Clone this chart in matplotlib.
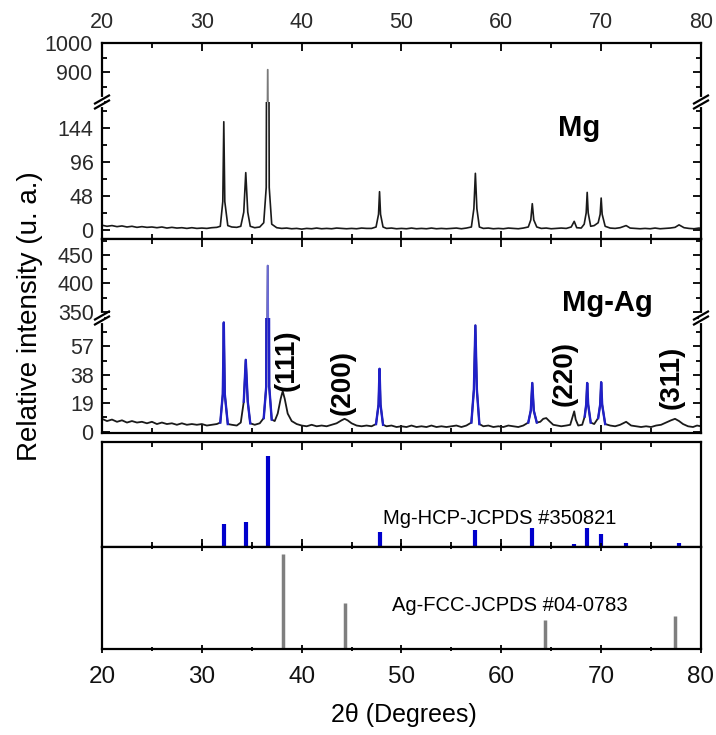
import numpy as np
import matplotlib
matplotlib.use('Agg')
import matplotlib.pyplot as plt
from matplotlib.ticker import MultipleLocator, FixedLocator
from matplotlib.lines import Line2D

plt.rcParams['font.family'] = ['Liberation Sans', 'DejaVu Sans']

# ---------------- data ----------------
# Mg pattern, intensity in units of the lower Mg axis
mg_tt = [20.0, 20.5, 21.0, 21.5, 22.0, 22.5, 23.0, 23.5, 24.0, 24.5, 25.0, 25.5, 26.0, 26.5,
         27.0, 27.5, 28.0, 28.5, 29.0, 29.5, 30.0, 30.5, 31.0, 31.5,
         31.85, 32.1, 32.2, 32.3, 32.6, 33.0, 33.5, 33.9,
         34.2, 34.4, 34.6, 34.85, 35.3, 35.8, 36.2,
         36.45, 36.6, 36.75, 37.0, 37.5, 38.0, 38.5, 39.0, 39.5, 40.0, 40.5, 41.0, 41.5,
         42.0, 42.5, 43.0, 43.5, 44.0, 44.5, 45.0, 45.5, 46.0, 46.5, 47.0, 47.45,
         47.7, 47.8, 47.9, 48.15, 48.5, 49.0, 49.5, 50.0, 50.5, 51.0, 51.5, 52.0, 52.5,
         53.0, 53.5, 54.0, 54.5, 55.0, 55.5, 56.0, 56.5, 57.0,
         57.25, 57.4, 57.55, 57.8, 58.2, 58.7, 59.2, 59.7, 60.2, 60.7, 61.2, 61.7, 62.2, 62.7,
         62.95, 63.1, 63.25, 63.55, 64.0, 64.5, 65.0, 65.5, 66.0, 66.5, 67.0, 67.3, 67.55,
         68.0, 68.3, 68.5, 68.6, 68.7, 68.95, 69.3, 69.7, 69.9, 70.0, 70.1, 70.4,
         70.9, 71.4, 71.9, 72.5, 72.9, 73.4, 73.9, 74.4, 74.9, 75.4, 75.9, 76.4, 76.9,
         77.4, 77.8, 78.3, 78.8, 79.3, 79.8, 80.0]
mg_int = [6.5, 5.0, 6.0, 4.5, 5.5, 4.0, 5.0, 3.5, 4.5, 3.5, 4.0, 3.0, 4.0, 2.5,
          3.5, 2.5, 3.0, 2.0, 3.0, 2.0, 2.5, 2.0, 3.0, 3.5,
          5, 40, 153, 40, 6, 4, 3.5, 5,
          25, 81, 25, 5, 3, 4, 10,
          60, 909, 60, 8, 3, 2, 2.5, 1.5, 2, 1, 2, 1.5, 2.5,
          1.5, 2, 1.5, 2.5, 2, 1.5, 2, 1.5, 2.5, 2, 2, 4,
          22, 54, 22, 4, 2, 2.5, 1.5, 2, 1.5, 2.5, 1.5, 2, 1.5,
          2.5, 1.5, 2, 1.5, 2, 2.5, 1.5, 2.5, 4,
          30, 80, 30, 4, 2, 2.5, 1.5, 2, 1.5, 2.5, 2, 1.5, 2.5, 4,
          14, 37, 14, 4, 2, 2.5, 1.5, 2, 2.5, 2, 4, 12, 3,
          2.5, 8, 24, 53, 24, 5, 6, 10, 22, 45, 22, 5,
          2.5, 2, 3, 6, 2.5, 2, 1.5, 2, 1.5, 2.5, 1.5, 2, 2.5,
          3.5, 7, 3, 2, 1.5, 2.5, 2]

# Mg-Ag pattern, intensity in units of the lower Mg-Ag axis
mgag_tt = [20.0, 20.5, 21.0, 21.5, 22.0, 22.5, 23.0, 23.5, 24.0, 24.5, 25.0, 25.5, 26.0, 26.5,
           27.0, 27.5, 28.0, 28.5, 29.0, 29.5, 30.0, 30.5, 31.0, 31.5,
           31.85, 32.1, 32.2, 32.3, 32.6, 33.0, 33.5, 33.9,
           34.2, 34.4, 34.6, 34.85, 35.3, 35.8, 36.2,
           36.45, 36.6, 36.75, 37.0, 37.3, 37.6, 37.9, 38.1, 38.3, 38.6, 39.0, 39.5, 40.0,
           40.5, 41.0, 41.5, 42.0, 42.5, 43.0, 43.5, 44.0, 44.3, 44.6, 45.0, 45.5, 46.0,
           46.5, 47.0, 47.45,
           47.7, 47.8, 47.9, 48.15, 48.5, 49.0, 49.5, 50.0, 50.5, 51.0, 51.5, 52.0, 52.5,
           53.0, 53.5, 54.0, 54.5, 55.0, 55.5, 56.0, 56.5, 57.0,
           57.25, 57.4, 57.55, 57.8, 58.2, 58.7, 59.2, 59.7, 60.2, 60.7, 61.2, 61.7, 62.2, 62.7,
           62.95, 63.1, 63.25, 63.55, 63.9, 64.2, 64.5, 64.8, 65.2, 65.6, 66.0, 66.5, 66.9,
           67.15, 67.3, 67.45, 67.7, 68.1, 68.35,
           68.5, 68.6, 68.7, 68.95, 69.3, 69.7, 69.9, 70.0, 70.1, 70.4,
           70.9, 71.4, 71.9, 72.5, 73.0, 73.5, 74.0, 74.5, 75.0, 75.5, 76.0, 76.5, 77.0,
           77.4, 77.8, 78.2, 78.7, 79.2, 79.6, 80.0]
mgag_int = [8.5, 7.0, 8.0, 6.5, 7.5, 6.0, 7.0, 6.0, 6.5, 5.5, 6.5, 5.0, 6.0, 5.0,
            5.5, 4.5, 5.5, 4.5, 5.0, 4.5, 5.0, 4.0, 4.5, 5.0,
            6, 25, 73, 25, 5, 4.5, 4.0, 6,
            20, 48, 20, 5.5, 4.5, 5.5, 9,
            30, 431, 30, 8, 7, 12, 22, 27, 22, 12, 7, 5, 4,
            3.5, 4.5, 3.5, 4, 3.5, 4.5, 5.5, 7.5, 8.5, 7.5, 5.5, 4, 3.5,
            4, 3.5, 5,
            18, 42, 18, 4.5, 3.5, 4, 3, 3.5, 3, 4, 3, 3.5, 3,
            4, 3, 3.5, 3, 3.5, 4, 3, 4, 6,
            28, 71, 28, 5, 3.5, 4, 3, 3.5, 3, 4, 3.5, 3, 4, 6,
            14, 32.5, 14, 6, 6.5, 8.5, 9, 7, 4.5, 4, 3.5, 4, 4.5,
            10, 13.5, 8, 4, 4.5, 10,
            18, 32.5, 18, 6, 5, 9, 18, 33, 18, 5,
            4, 3.5, 4.5, 6.5, 4, 3.5, 3, 3.5, 3, 4, 4.5, 6, 7.5,
            8.5, 7, 5, 3.5, 3, 4, 3.5]

# Mg reflections shown in blue in the Mg-Ag pattern
mg_peaks = [32.2, 34.4, 36.6, 47.8, 57.4, 63.1, 68.6, 70.0]

# reference cards
hcp_tt = [32.2, 34.4, 36.6, 47.8, 57.4, 63.1, 67.3, 68.6, 70.0, 72.5, 77.8]
hcp_int = [25, 27, 100, 16, 19, 21, 3, 21, 14, 4, 4]
fcc_tt = [38.1, 44.3, 64.4, 77.4]
fcc_int = [100, 48, 30, 35]

hkl_labels = ['(111)', '(200)', '(220)', '(311)']
hkl_tt = [38.5, 44.1, 66.3, 77.1]
hkl_y = [48, 32.5, 39, 36]

# ---------------- layout ----------------
W, H = 716, 735
fig = plt.figure(figsize=(W / 100, H / 100), dpi=100)
L, R = 102, 701


def pos(top, bot):
    return [L / W, 1 - bot / H, (R - L) / W, (bot - top) / H]


ax_mg_hi = fig.add_axes(pos(43, 102))
ax_mg_lo = fig.add_axes(pos(102, 239))
ax_ag_hi = fig.add_axes(pos(239, 318))
ax_ag_lo = fig.add_axes(pos(318, 433))
ax_hcp = fig.add_axes(pos(442, 547))
ax_fcc = fig.add_axes(pos(547, 649))

lab_col = '#2a2a2a'
for ax in [ax_mg_hi, ax_mg_lo, ax_ag_hi, ax_ag_lo, ax_hcp, ax_fcc]:
    ax.set_xlim(20, 80)
    ax.xaxis.set_major_locator(MultipleLocator(10))
    ax.xaxis.set_minor_locator(MultipleLocator(5))
    for s in ax.spines.values():
        s.set_linewidth(1.6)
    ax.tick_params(which='both', direction='in', width=1.3, colors='black',
                   labelcolor=lab_col, labelsize=15.5, top=True, bottom=True,
                   left=True, right=True, labelbottom=False, pad=6)
    ax.tick_params(which='major', length=6)
    ax.tick_params(which='minor', length=3.5)

# broken-axis pairs
for hi, lo in [(ax_mg_hi, ax_mg_lo), (ax_ag_hi, ax_ag_lo)]:
    hi.spines['bottom'].set_visible(False)
    lo.spines['top'].set_visible(False)
    hi.tick_params(which='both', bottom=False)
    lo.tick_params(which='both', top=False)

ax_mg_hi.tick_params(labeltop=True, labelsize=15.5, pad=7)

# Mg
mg_x = np.array(mg_tt)
mg_y = np.array(mg_int)
ax_mg_hi.plot(mg_x, mg_y, color='#7a7a7a', lw=1.3)
ax_mg_lo.plot(mg_x, mg_y, color='#1a1a1a', lw=1.2)
ax_mg_hi.set_ylim(799, 1000)
ax_mg_hi.yaxis.set_major_locator(FixedLocator([900, 1000]))
ax_mg_hi.yaxis.set_minor_locator(MultipleLocator(50))
ax_mg_lo.set_ylim(-13, 181)
ax_mg_lo.yaxis.set_major_locator(FixedLocator([0, 48, 96, 144]))
ax_mg_lo.yaxis.set_minor_locator(MultipleLocator(24))
ax_mg_lo.text(67.8, 144, 'Mg', ha='center', va='center', fontsize=21, weight='bold')

# Mg-Ag
ag_x = np.array(mgag_tt)
ag_y = np.array(mgag_int)
near = np.zeros(ag_x.size, dtype=bool)
for c in mg_peaks:
    near |= np.abs(ag_x - c) <= 0.46
blue_y = np.where(near, ag_y, np.nan)
ax_ag_hi.plot(ag_x, ag_y, color='#1a1a1a', lw=1.2)
ax_ag_hi.plot(ag_x, blue_y, color='#6b6bd6', lw=1.5)
ax_ag_lo.plot(ag_x, ag_y, color='#1a1a1a', lw=1.3)
ax_ag_lo.plot(ag_x, blue_y, color='#2020c8', lw=1.7)
ax_ag_hi.set_ylim(339, 478)
ax_ag_hi.yaxis.set_major_locator(FixedLocator([350, 400, 450]))
ax_ag_hi.yaxis.set_minor_locator(MultipleLocator(25))
ax_ag_lo.set_ylim(-1, 76)
ax_ag_lo.yaxis.set_major_locator(FixedLocator([0, 19, 38, 57]))
ax_ag_lo.yaxis.set_minor_locator(MultipleLocator(9.5))
ax_ag_hi.text(70.6, 365, 'Mg-Ag', ha='center', va='center', fontsize=21, weight='bold',
              clip_on=False)
for lab, x, y in zip(hkl_labels, hkl_tt, hkl_y):
    ax_ag_lo.text(x, y, lab, rotation=90, ha='center', va='center', fontsize=20,
                  weight='bold')

# reference sticks
ax_hcp.vlines(hcp_tt, 0, hcp_int, color='#0000cc', lw=3)
ax_hcp.set_ylim(0, 115)
ax_hcp.text(59.8, 31.5, 'Mg-HCP-JCPDS #350821', ha='center', va='center', fontsize=14.5)
ax_fcc.vlines(fcc_tt, 0, fcc_int, color='#7f7f7f', lw=2.5)
ax_fcc.set_ylim(0, 107)
ax_fcc.text(60.8, 46, 'Ag-FCC-JCPDS #04-0783', ha='center', va='center', fontsize=14.5)
for ax in [ax_hcp, ax_fcc]:
    ax.tick_params(which='both', left=False, right=False, labelleft=False)
ax_fcc.tick_params(which='both', direction='inout', labelbottom=True, labelsize=17.5,
                   labelcolor='#111111', pad=9)

fig.text(404 / W, 1 - 715 / H, '2\u03b8 (Degrees)', ha='center', va='center', fontsize=18)
fig.text(30 / W, 1 - 316 / H, 'Relative intensity (u. a.)', rotation=90, ha='center',
         va='center', fontsize=20)

# break marks on the left and right spines
for ypx in [102, 318]:
    for xpx in [L, R]:
        fig.add_artist(Line2D([xpx / W, xpx / W], [1 - (ypx - 3) / H, 1 - (ypx + 3) / H],
                              color='white', lw=3, transform=fig.transFigure))
        for off in (-2.5, 2.5):
            xs = [(xpx - 7) / W, (xpx + 7) / W]
            ys = [1 - (ypx + off + 4) / H, 1 - (ypx + off - 4) / H]
            fig.add_artist(Line2D(xs, ys, color='black', lw=1.6,
                                  transform=fig.transFigure))

fig.savefig('out.png', dpi=100)
